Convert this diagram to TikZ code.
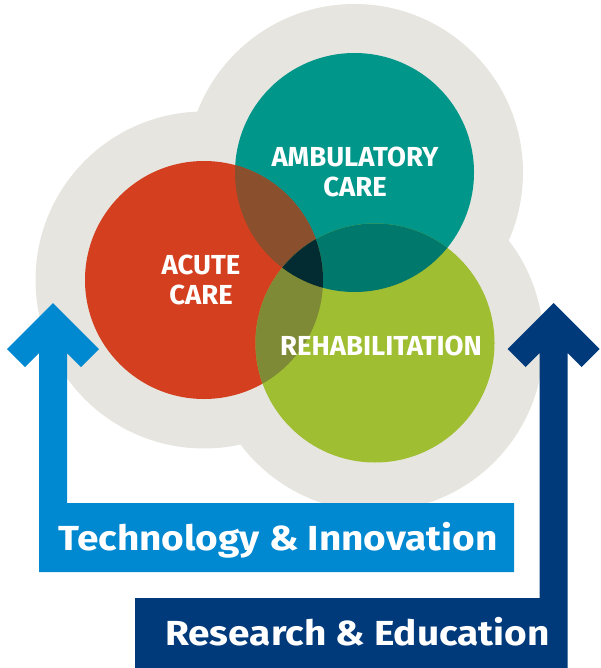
\documentclass[tikz,border=0pt]{standalone}
\usepackage{fontspec}
\setmainfont{Fira Sans}
\newfontfamily\boxfont[FakeStretch=1.115]{Fira Sans}
\definecolor{blobgray}{HTML}{E6E5DF}
\definecolor{teal1}{HTML}{00968A}
\definecolor{red1}{HTML}{D4401F}
\definecolor{green1}{HTML}{A0BE32}
\definecolor{rtmix}{HTML}{8A502E}
\definecolor{tgmix}{HTML}{00786B}
\definecolor{rgmix}{HTML}{7E8A36}
\definecolor{allmix}{HTML}{032C32}
\definecolor{techblue}{HTML}{0088D0}
\definecolor{resnavy}{HTML}{003A7B}
\tikzset{
  circlabel/.style={text=white, font=\bfseries\fontsize{27.5}{30}\selectfont, align=center, inner sep=0pt},
  boxlabel/.style={text=white, font=\boxfont\bfseries\fontsize{34.8}{40}\selectfont, inner sep=0pt, anchor=base west},
}
\begin{document}
\begin{tikzpicture}[x=1pt,y=-1pt]
\useasboundingbox (0,0) rectangle (600,668);
\coordinate (T) at (354.5,172.5);
\coordinate (R) at (204,280);
\coordinate (G) at (375,343);
% gray blob
\fill[blobgray] (T) circle[radius=168.5pt] (R) circle[radius=168.5pt] (G) circle[radius=168.5pt];
% circles
\fill[teal1] (T) circle[radius=119.5pt];
\fill[red1] (R) circle[radius=119pt];
\fill[green1] (G) circle[radius=119.5pt];
% overlaps
\begin{scope}
  \clip (R) circle[radius=119pt];
  \fill[rtmix] (T) circle[radius=119.5pt];
\end{scope}
\begin{scope}
  \clip (T) circle[radius=119.5pt];
  \fill[tgmix] (G) circle[radius=119.5pt];
\end{scope}
\begin{scope}
  \clip (R) circle[radius=119pt];
  \fill[rgmix] (G) circle[radius=119.5pt];
\end{scope}
\begin{scope}
  \clip (R) circle[radius=119pt];
  \clip (T) circle[radius=119.5pt];
  \fill[allmix] (G) circle[radius=119.5pt];
\end{scope}
% labels
\node[circlabel] (amb) at (355,172) {AMBULATORY\\CARE};
\node[circlabel] (acu) at (201,280) {ACUTE\\CARE};
\node[circlabel] (reh) at (381,346) {REHABILITATION};
% blue arrow and box
\fill[techblue] (53,303) -- (99,349) -- (81,367) -- (67,353) -- (67,503)
  -- (514,503) -- (514,572) -- (39,572) -- (39,353) -- (25,367) -- (7,349) -- cycle;
\node[boxlabel] (tech) at (58,550) {Technology \& Innovation};
% navy arrow and box
\fill[resnavy] (553.5,303) -- (599.5,349) -- (581.5,367) -- (567.5,353) -- (567.5,668)
  -- (135,668) -- (135,598) -- (539.5,598) -- (539.5,353) -- (525.5,367) -- (507.5,349) -- cycle;
\node[boxlabel] (res) at (165,645) {Research \& Education};
\end{tikzpicture}
\end{document}
